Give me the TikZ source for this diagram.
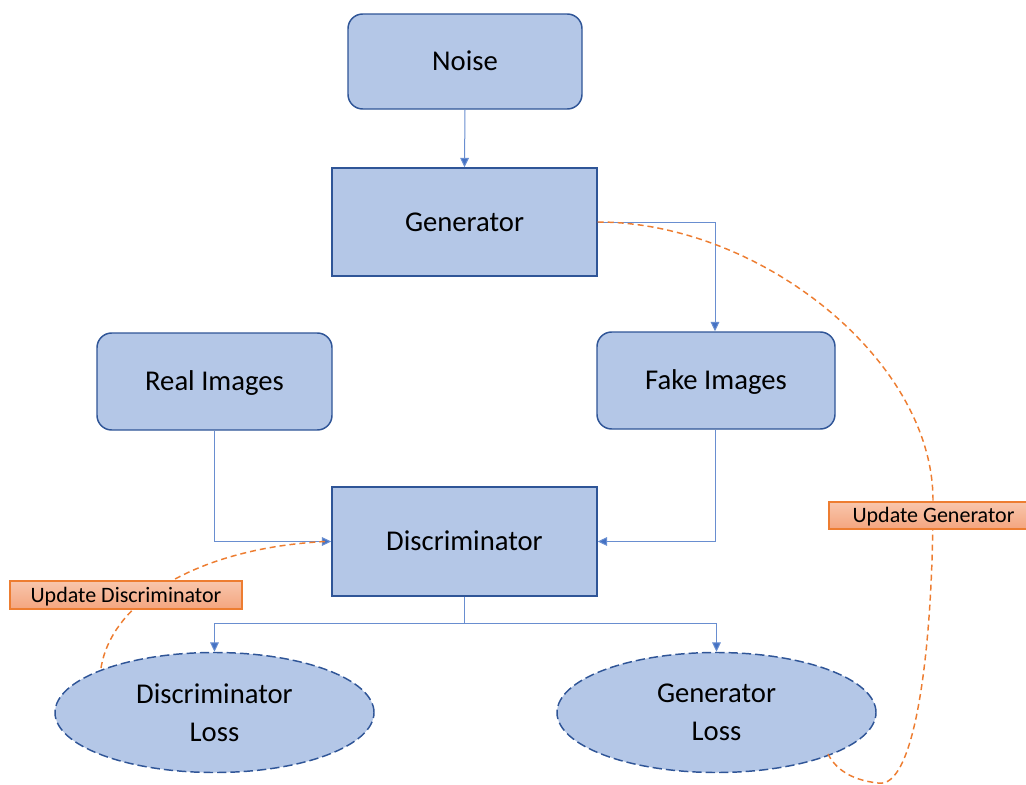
\documentclass[tikz,border=0pt]{standalone}
\usepackage{fontspec}
\setmainfont{Carlito}
\usetikzlibrary{arrows.meta,shapes.geometric}
\definecolor{boxfill}{HTML}{B4C7E7}
\definecolor{boxdraw}{HTML}{2F5597}
\definecolor{lineblue}{HTML}{4472C4}
\definecolor{orng}{HTML}{ED7D31}
\definecolor{lbltop}{HTML}{F8C6AC}
\definecolor{lblbot}{HTML}{F4A57F}
\tikzset{
  every node/.style={font=\fontsize{21.5}{28.5}\selectfont, inner sep=0pt},
  mtext/.style={text height=18.3pt, text depth=4.5pt},
  rbox/.style={mtext, draw=boxdraw, fill=boxfill, line width=1.1pt, rounded corners=11pt},
  sbox/.style={mtext, draw=boxdraw, fill=boxfill, line width=1.1pt},
  lossell/.style={ellipse, align=center, draw=boxdraw, fill=boxfill, line width=1.1pt, dash pattern=on 7pt off 3pt, minimum width=239.25pt, minimum height=90pt},
  conn/.style={draw=lineblue!80, line width=0.75pt, -{Triangle[length=7pt,width=6.5pt,fill=lineblue]}},
  upd/.style={draw=orng, line width=1.1pt, dash pattern=on 4.5pt off 3pt},
  lbl/.style={draw=orng, top color=lbltop, bottom color=lblbot, line width=1.1pt, font=\fontsize{16.5}{20}\selectfont, text height=14pt, text depth=3.5pt},
}
\begin{document}
\begin{tikzpicture}[x=0.75pt,y=-0.75pt]
\useasboundingbox (0,0) rectangle (1026,785);
\node[rbox, minimum width=175.5pt, minimum height=71.25pt] (noise) at (465,61.5) {Noise};
\node[sbox, minimum width=198.75pt, minimum height=81pt] (gen) at (464.5,222) {Generator};
\node[rbox, minimum width=176.25pt, minimum height=72.75pt] (real) at (214.5,381.5) {Real Images};
\node[rbox, minimum width=178.5pt, minimum height=72.75pt] (fake) at (716,380.5) {Fake Images};
\node[sbox, minimum width=198.75pt, minimum height=81.75pt] (disc) at (464.5,541.5) {Discriminator};
\node[lossell] (dloss) at (214.5,712.5) {Discriminator\\Loss};
\node[lossell] (gloss) at (716.5,712.5) {Generator\\Loss};

\coordinate (gturn) at (715,222);
\coordinate (rturn) at (214.5,541.5);
\coordinate (fturn) at (715,541.5);
\coordinate (split) at (464.5,623);
\coordinate (dl) at (214.5,623);
\coordinate (gl) at (716.5,623);

\draw[conn] (noise.south) -- (gen.north);
\draw[conn] (gen.east) -- (gturn) -- (gturn |- fake.north);
\draw[conn] (real.south) -- (rturn) -- (disc.west);
\draw[conn] (fake.south -| fturn) -- (fturn) -- (disc.east);
\draw[draw=lineblue!80, line width=0.75pt] (disc.south) -- (split);
\draw[conn] (split) -- (dl) -- (dloss.north);
\draw[conn] (split) -- (gl) -- (gloss.north);

% orange update curves
\coordinate (dstart) at (101,668);
\draw[upd] (dstart) .. controls (112,600) and (200,548) .. (325,541.5);
\coordinate (gstart) at (828,754);
\coordinate (gbot) at (878,783);
\coordinate (gmid) at (933,500);
\draw[upd] (gen.east) .. controls (760,222) and (933,360) .. (gmid)
  .. controls (933,650) and (915,790) .. (gbot)
  .. controls (850,780) and (835,768) .. (gstart);

\node[lbl, minimum width=174pt, minimum height=21pt] (ud) at (126,595) {Update Discriminator};
\node[lbl, minimum width=156.75pt, minimum height=20.25pt] (ug) at (933.5,515.5) {Update Generator};
\end{tikzpicture}
\end{document}
